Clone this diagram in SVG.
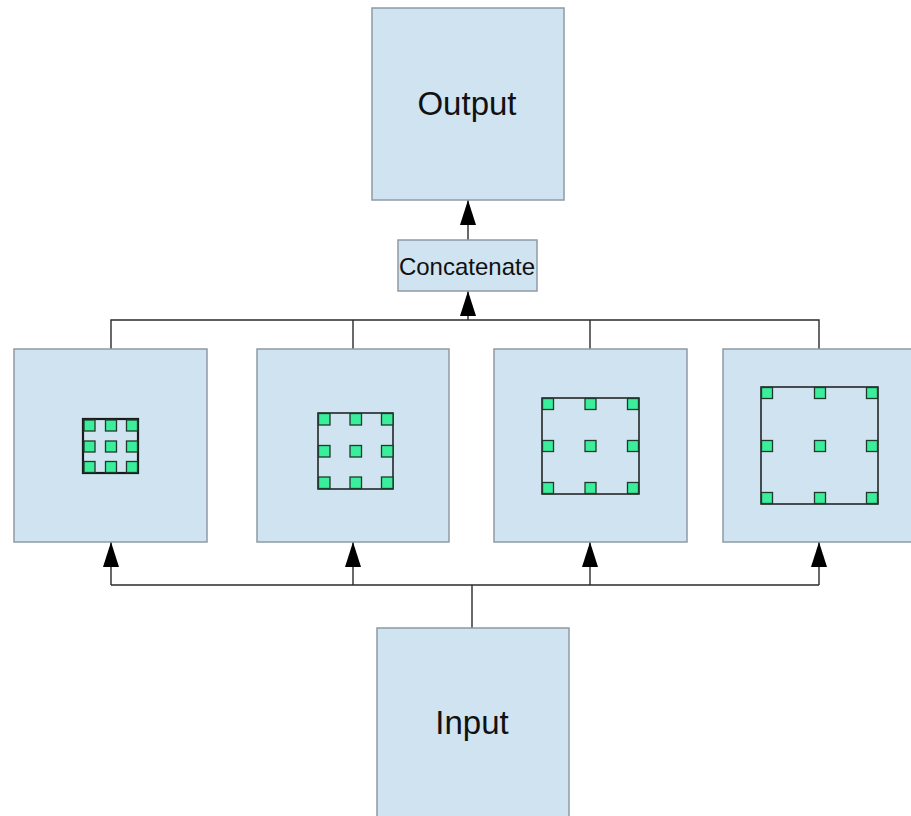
<svg xmlns="http://www.w3.org/2000/svg" width="911" height="816" viewBox="0 0 911 816">
  <style>
    .box { fill: #cfe3f1; stroke: #8e9ba6; stroke-width: 1.5; }
    .win { fill: none; stroke: #1a1a1a; stroke-width: 1.5; }
    .win.thick { stroke-width: 2.2; }
    .cell { fill: #3aee9c; stroke: #1f3a2c; stroke-width: 1.3; }
    .wire { fill: none; stroke: #2a2a2a; stroke-width: 1.4; }
    .label { font-family: "Liberation Sans", Arial, sans-serif; fill: #111; text-anchor: middle; }
  </style>
  <defs>
    <marker id="head" viewBox="0 0 25 16" refX="25" refY="8" markerWidth="25" markerHeight="16" markerUnits="userSpaceOnUse" orient="auto">
      <path d="M0,0 L25,8 L0,16 Z" fill="#000"/>
    </marker>
  </defs>

  <g id="connectors">
    <!-- Input fans out to the four branches -->
    <path class="wire" d="M472,628 V585"/>
    <path class="wire" d="M111,585 H819"/>
    <path class="wire" d="M111,585 V542" marker-end="url(#head)"/>
    <path class="wire" d="M353,585 V542" marker-end="url(#head)"/>
    <path class="wire" d="M590,585 V542" marker-end="url(#head)"/>
    <path class="wire" d="M819,585 V542" marker-end="url(#head)"/>
    <!-- Branches merge into Concatenate -->
    <path class="wire" d="M111,349 V320 H819 V349"/>
    <path class="wire" d="M353,349 V320"/>
    <path class="wire" d="M590,349 V320"/>
    <path class="wire" d="M468,320 V291" marker-end="url(#head)"/>
    <!-- Concatenate to Output -->
    <path class="wire" d="M468,240 V200" marker-end="url(#head)"/>
  </g>

  <g id="output">
    <rect class="box" x="372" y="8" width="192" height="192"/>
    <text class="label" x="467" y="115" font-size="33">Output</text>
  </g>

  <g id="concatenate">
    <rect class="box" x="398" y="240" width="139" height="51"/>
    <text class="label" x="467" y="275" font-size="24">Concatenate</text>
  </g>

  <g id="branch1">
    <rect class="box" x="14" y="349" width="193" height="193"/>
    <rect class="win thick" x="83" y="419" width="55" height="54"/>
    <rect class="cell" x="84" y="420" width="11" height="11"/>
    <rect class="cell" x="105.5" y="420" width="11" height="11"/>
    <rect class="cell" x="126.5" y="420" width="11" height="11"/>
    <rect class="cell" x="84" y="441" width="11" height="11"/>
    <rect class="cell" x="105.5" y="441" width="11" height="11"/>
    <rect class="cell" x="126.5" y="441" width="11" height="11"/>
    <rect class="cell" x="84" y="461.5" width="11" height="11"/>
    <rect class="cell" x="105.5" y="461.5" width="11" height="11"/>
    <rect class="cell" x="126.5" y="461.5" width="11" height="11"/>
  </g>

  <g id="branch2">
    <rect class="box" x="257" y="349" width="192" height="193"/>
    <rect class="win" x="318" y="413" width="75" height="76"/>
    <rect class="cell" x="318.5" y="413.5" width="11.5" height="11.5"/>
    <rect class="cell" x="350" y="413.5" width="11.5" height="11.5"/>
    <rect class="cell" x="381.5" y="413.5" width="11.5" height="11.5"/>
    <rect class="cell" x="318.5" y="445.5" width="11.5" height="11.5"/>
    <rect class="cell" x="350" y="445.5" width="11.5" height="11.5"/>
    <rect class="cell" x="381.5" y="445.5" width="11.5" height="11.5"/>
    <rect class="cell" x="318.5" y="477" width="11.5" height="11.5"/>
    <rect class="cell" x="350" y="477" width="11.5" height="11.5"/>
    <rect class="cell" x="381.5" y="477" width="11.5" height="11.5"/>
  </g>

  <g id="branch3">
    <rect class="box" x="494" y="349" width="193" height="193"/>
    <rect class="win" x="542" y="398" width="97" height="96"/>
    <rect class="cell" x="542.5" y="398.5" width="11" height="11"/>
    <rect class="cell" x="585" y="398.5" width="11" height="11"/>
    <rect class="cell" x="627.5" y="398.5" width="11" height="11"/>
    <rect class="cell" x="542.5" y="440.5" width="11" height="11"/>
    <rect class="cell" x="585" y="440.5" width="11" height="11"/>
    <rect class="cell" x="627.5" y="440.5" width="11" height="11"/>
    <rect class="cell" x="542.5" y="482.5" width="11" height="11"/>
    <rect class="cell" x="585" y="482.5" width="11" height="11"/>
    <rect class="cell" x="627.5" y="482.5" width="11" height="11"/>
  </g>

  <g id="branch4">
    <rect class="box" x="723" y="349" width="193" height="193"/>
    <rect class="win" x="761" y="387" width="117" height="117"/>
    <rect class="cell" x="761.5" y="387.5" width="11" height="11"/>
    <rect class="cell" x="814.5" y="387.5" width="11" height="11"/>
    <rect class="cell" x="866.5" y="387.5" width="11" height="11"/>
    <rect class="cell" x="761.5" y="440.5" width="11" height="11"/>
    <rect class="cell" x="814.5" y="440.5" width="11" height="11"/>
    <rect class="cell" x="866.5" y="440.5" width="11" height="11"/>
    <rect class="cell" x="761.5" y="492.5" width="11" height="11"/>
    <rect class="cell" x="814.5" y="492.5" width="11" height="11"/>
    <rect class="cell" x="866.5" y="492.5" width="11" height="11"/>
  </g>

  <g id="input">
    <rect class="box" x="377" y="628" width="192" height="192"/>
    <text class="label" x="472" y="734" font-size="33">Input</text>
  </g>
</svg>
